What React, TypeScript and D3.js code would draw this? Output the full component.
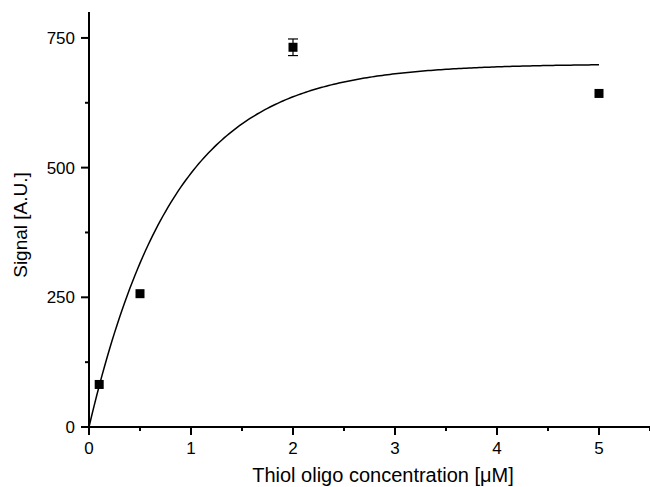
import React from "react";
import * as d3 from "d3";

// Measured signal vs. thiol oligo concentration
const concentrations = [0.1, 0.5, 2, 5];
const signals = [82, 257, 732, 643];
const signalErrors = [0, 0, 16, 0];

// Saturation fit: signal = fitMax * (1 - exp(-fitRate * c))
const fitMax = 700;
const fitRate = 1.2;
const fitRange = [0, 5];

const xMajorTicks = [0, 1, 2, 3, 4, 5];
const xMinorTicks = [0.5, 1.5, 2.5, 3.5, 4.5, 5.5];
const yMajorTicks = [0, 250, 500, 750];
const yMinorTicks = [125, 375, 625];

const W = 650;
const H = 487;
const margin = { left: 89, right: 0, top: 12, bottom: 60 };
const FONT = "Liberation Sans, Arial, sans-serif";

export default function App() {
  const x = d3.scaleLinear().domain([0, 5.5]).range([margin.left, W - margin.right]);
  const y = d3.scaleLinear().domain([0, 800]).range([H - margin.bottom, margin.top]);

  const fitPoints = d3.range(0, 201).map((i) => {
    const c = fitRange[0] + ((fitRange[1] - fitRange[0]) * i) / 200;
    return [c, fitMax * (1 - Math.exp(-fitRate * c))] as [number, number];
  });
  const line = d3
    .line<[number, number]>()
    .x((d) => x(d[0]))
    .y((d) => y(d[1]));

  const x0 = x(0);
  const y0 = y(0);
  const marker = 9;

  return (
    <svg width={W} height={H} style={{ position: "absolute", left: 0, top: 0 }}>
      <rect width={W} height={H} fill="#fff" />
      {/* fit curve */}
      <path d={line(fitPoints) || ""} fill="none" stroke="#000" strokeWidth={1.5} />

      {/* error bars */}
      {concentrations.map((c, i) =>
        signalErrors[i] > 0 ? (
          <g key={"e" + i} stroke="#000" strokeWidth={1.2}>
            <line x1={x(c)} x2={x(c)} y1={y(signals[i] - signalErrors[i])} y2={y(signals[i] + signalErrors[i])} />
            <line x1={x(c) - 5} x2={x(c) + 5} y1={y(signals[i] + signalErrors[i])} y2={y(signals[i] + signalErrors[i])} />
            <line x1={x(c) - 5} x2={x(c) + 5} y1={y(signals[i] - signalErrors[i])} y2={y(signals[i] - signalErrors[i])} />
          </g>
        ) : null
      )}

      {/* data markers */}
      {concentrations.map((c, i) => (
        <rect
          key={"p" + i}
          x={x(c) - marker / 2}
          y={y(signals[i]) - marker / 2}
          width={marker}
          height={marker}
          fill="#000"
        />
      ))}

      {/* axes */}
      <g stroke="#000" strokeWidth={2}>
        <line x1={x0} x2={x0} y1={y(800)} y2={y0 + 1} />
        <line x1={x0 - 1} x2={x(5.5)} y1={y0} y2={y0} />
        {yMajorTicks.map((t) => (
          <line key={"ym" + t} x1={x0 - 8} x2={x0} y1={y(t)} y2={y(t)} />
        ))}
        {yMinorTicks.map((t) => (
          <line key={"yn" + t} x1={x0 - 4} x2={x0} y1={y(t)} y2={y(t)} />
        ))}
        {xMajorTicks.map((t) => (
          <line key={"xm" + t} x1={x(t)} x2={x(t)} y1={y0} y2={y0 + 8} />
        ))}
        {xMinorTicks.map((t) => (
          <line key={"xn" + t} x1={x(t)} x2={x(t)} y1={y0} y2={y0 + 4} />
        ))}
      </g>

      {/* tick labels */}
      <g fontFamily={FONT} fontSize={17} fill="#000">
        {yMajorTicks.map((t) => (
          <text key={"yl" + t} x={x0 - 14} y={y(t)} dy="0.35em" textAnchor="end">
            {t}
          </text>
        ))}
        {xMajorTicks.map((t) => (
          <text key={"xl" + t} x={x(t)} y={y0 + 27} textAnchor="middle">
            {t}
          </text>
        ))}
      </g>

      {/* axis titles */}
      <text x={383} y={482} fontFamily={FONT} fontSize={20} textAnchor="middle" fill="#000">
        Thiol oligo concentration [μM]
      </text>
      <text
        transform={`translate(27, 225) rotate(-90)`}
        fontFamily={FONT}
        fontSize={19}
        textAnchor="middle"
        fill="#000"
      >
        Signal [A.U.]
      </text>
    </svg>
  );
}
